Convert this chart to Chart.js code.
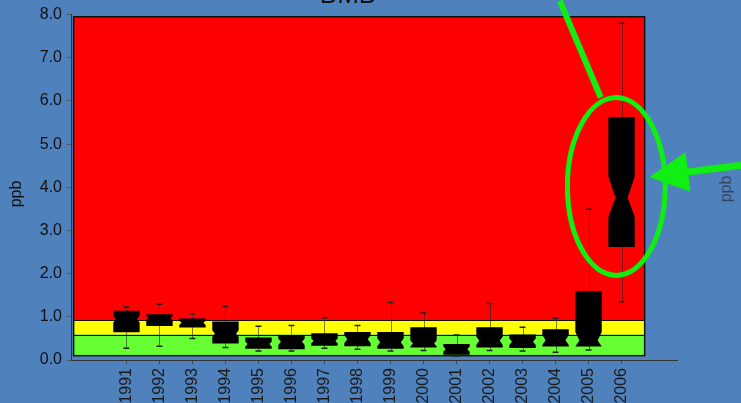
<!DOCTYPE html>
<html>
<head>
<meta charset="utf-8">
<script src="https://cdn.jsdelivr.net/npm/chart.js@4.4.1/dist/chart.umd.min.js"></script>
<style>
    html, body { margin: 0; padding: 0; background: #4f81bd; }
    canvas { display: block; }
</style>
</head>
<body>
<canvas id="bmbChart" width="741" height="403"></canvas>
<script>
// BMB yearly notched box plots (ppb)
const years = [1991, 1992, 1993, 1994, 1995, 1996, 1997, 1998, 1999, 2000, 2001, 2002, 2003, 2004, 2005, 2006];
const whiskerLow  = [0.27, 0.32, 0.50, 0.29, 0.21, 0.21, 0.27, 0.25, 0.21, 0.22, 0.09, 0.22, 0.21, 0.18, 0.23, 1.35];
const q1          = [0.64, 0.79, 0.75, 0.38, 0.26, 0.25, 0.33, 0.32, 0.26, 0.29, 0.12, 0.29, 0.28, 0.31, 0.31, 2.62];
const medians     = [0.95, 0.97, 0.86, 0.61, 0.37, 0.42, 0.44, 0.48, 0.41, 0.38, 0.25, 0.45, 0.42, 0.46, 0.45, 3.76];
const q3          = [1.14, 1.06, 0.96, 0.89, 0.52, 0.58, 0.62, 0.65, 0.65, 0.76, 0.37, 0.76, 0.59, 0.71, 1.60, 5.63];
const whiskerHigh = [1.23, 1.29, 1.07, 1.24, 0.78, 0.80, 0.98, 0.80, 1.33, 1.09, 0.58, 1.31, 0.76, 0.96, 3.49, 7.80];
const notchLow    = [0.86, 0.92, 0.81, 0.54, 0.31, 0.35, 0.39, 0.39, 0.32, 0.31, 0.19, 0.35, 0.35, 0.35, 0.31, 3.31];
const notchHigh   = [1.02, 1.02, 0.91, 0.69, 0.42, 0.50, 0.50, 0.58, 0.50, 0.46, 0.31, 0.54, 0.50, 0.58, 0.65, 4.25];

const yTicks = [0, 1, 2, 3, 4, 5, 6, 7, 8];

// background bands (ppb): green, yellow, red
const bandEdges = [0.10, 0.59, 0.92, 7.95];
const bandColors = ['#66ff33', '#ffff00', '#ff0000'];
const frameX = [1989.4, 2006.7];

// highlight annotation, in data units
const ellipseCenter = [2005.84, 4.02];
const ellipseRadius = [1.48, 2.06];
const pointerLine = [[2004.13, 8.32], [2005.37, 6.08]];
const arrowLine = [[2009.62, 4.51], [2006.84, 4.24]];

const boxWidth = 0.8;
const capWidth = 0.18;
const FONT = '"Liberation Sans", Arial, sans-serif';

const boxPlotPlugin = {
    id: 'boxPlots',
    beforeDraw(chart) {
        const ctx = chart.ctx;
        ctx.save();
        ctx.fillStyle = '#4f81bd';
        ctx.fillRect(0, 0, chart.width, chart.height);
        ctx.restore();
    },
    beforeDatasetsDraw(chart) {
        const ctx = chart.ctx;
        const xs = chart.scales.x, ys = chart.scales.y;
        const left = xs.getPixelForValue(frameX[0]);
        const right = xs.getPixelForValue(frameX[1]);
        ctx.save();
        for (let i = 0; i < bandColors.length; i++) {
            const top = ys.getPixelForValue(bandEdges[i + 1]);
            const bottom = ys.getPixelForValue(bandEdges[i]);
            ctx.fillStyle = bandColors[i];
            ctx.fillRect(left, top, right - left, bottom - top);
        }
        ctx.strokeStyle = '#111';
        ctx.lineWidth = 1;
        for (let i = 1; i < bandEdges.length - 1; i++) {
            const y = Math.round(ys.getPixelForValue(bandEdges[i])) + 0.5;
            ctx.beginPath();
            ctx.moveTo(left, y);
            ctx.lineTo(right, y);
            ctx.stroke();
        }
        const top = ys.getPixelForValue(bandEdges[bandEdges.length - 1]);
        const bottom = ys.getPixelForValue(bandEdges[0]);
        ctx.lineWidth = 1.5;
        ctx.strokeRect(left, top, right - left, bottom - top);
        ctx.restore();
    },
    afterDatasetsDraw(chart) {
        const ctx = chart.ctx;
        const xs = chart.scales.x, ys = chart.scales.y;
        ctx.save();
        years.forEach(function (year, i) {
            const x = xs.getPixelForValue(year);
            const half = (xs.getPixelForValue(year + boxWidth / 2) - xs.getPixelForValue(year - boxWidth / 2)) / 2;
            const capHalf = (xs.getPixelForValue(year + capWidth / 2) - xs.getPixelForValue(year - capWidth / 2)) / 2;
            const yLow = ys.getPixelForValue(whiskerLow[i]);
            const yHigh = ys.getPixelForValue(whiskerHigh[i]);
            const yQ1 = ys.getPixelForValue(q1[i]);
            const yQ3 = ys.getPixelForValue(q3[i]);
            const yMed = ys.getPixelForValue(medians[i]);
            const nHi = ys.getPixelForValue(Math.min(notchHigh[i], q3[i]));
            const nLo = ys.getPixelForValue(Math.max(notchLow[i], q1[i]));

            // whiskers
            const xl = Math.round(x) + 0.5;
            ctx.strokeStyle = 'rgba(40, 40, 40, 0.6)';
            ctx.lineWidth = 1;
            ctx.beginPath();
            ctx.moveTo(xl, yHigh);
            ctx.lineTo(xl, yLow);
            ctx.stroke();
            ctx.strokeStyle = '#222';
            ctx.lineWidth = 1.5;
            ctx.beginPath();
            ctx.moveTo(x - capHalf, yHigh);
            ctx.lineTo(x + capHalf, yHigh);
            ctx.moveTo(x - capHalf, yLow);
            ctx.lineTo(x + capHalf, yLow);
            ctx.stroke();

            // notched box
            const indent = Math.min(half * 0.54, 0.35 * (nLo - nHi) / 2 + 1.5);
            ctx.fillStyle = '#000';
            ctx.beginPath();
            ctx.moveTo(x - half, yQ3);
            ctx.lineTo(x + half, yQ3);
            ctx.lineTo(x + half, nHi);
            ctx.lineTo(x + half - indent, yMed);
            ctx.lineTo(x + half, nLo);
            ctx.lineTo(x + half, yQ1);
            ctx.lineTo(x - half, yQ1);
            ctx.lineTo(x - half, nLo);
            ctx.lineTo(x - half + indent, yMed);
            ctx.lineTo(x - half, nHi);
            ctx.closePath();
            ctx.fill();
        });
        ctx.restore();
    },
    afterDraw(chart) {
        const ctx = chart.ctx;
        const xs = chart.scales.x, ys = chart.scales.y;
        const px = function (p) { return [xs.getPixelForValue(p[0]), ys.getPixelForValue(p[1])]; };
        ctx.save();

        // title, mostly off the top edge
        ctx.fillStyle = '#111';
        ctx.font = '26px ' + FONT;
        ctx.textAlign = 'center';
        ctx.textBaseline = 'alphabetic';
        ctx.fillText('BMB', 348, 3);

        // axis labels
        ctx.font = '16px ' + FONT;
        ctx.textBaseline = 'middle';
        ctx.save();
        ctx.translate(17, 194);
        ctx.rotate(-Math.PI / 2);
        ctx.fillStyle = '#111';
        ctx.fillText('ppb', 0, 0);
        ctx.restore();
        ctx.save();
        ctx.translate(727, 189);
        ctx.rotate(-Math.PI / 2);
        ctx.fillStyle = 'rgba(40, 45, 55, 0.7)';
        ctx.fillText('ppb', 0, 0);
        ctx.restore();

        // green highlight
        ctx.strokeStyle = '#11ee11';
        ctx.fillStyle = '#11ee11';
        const c = px(ellipseCenter);
        const rx = xs.getPixelForValue(ellipseCenter[0] + ellipseRadius[0]) - c[0];
        const ry = c[1] - ys.getPixelForValue(ellipseCenter[1] + ellipseRadius[1]);
        ctx.lineWidth = 5;
        ctx.beginPath();
        ctx.ellipse(c[0], c[1], rx, ry, 0, 0, Math.PI * 2);
        ctx.stroke();

        const a = px(pointerLine[0]), b = px(pointerLine[1]);
        ctx.lineWidth = 6;
        ctx.beginPath();
        ctx.moveTo(a[0], a[1]);
        ctx.lineTo(b[0], b[1]);
        ctx.stroke();

        const tail = px(arrowLine[0]), tip = px(arrowLine[1]);
        const dx = tip[0] - tail[0], dy = tip[1] - tail[1];
        const len = Math.hypot(dx, dy);
        const ux = dx / len, uy = dy / len;
        const headLen = 39, headHalf = 20;
        const bx = tip[0] - ux * headLen, by = tip[1] - uy * headLen;
        ctx.lineWidth = 7;
        ctx.beginPath();
        ctx.moveTo(tail[0], tail[1]);
        ctx.lineTo(bx + ux * 4, by + uy * 4);
        ctx.stroke();
        ctx.beginPath();
        ctx.moveTo(tip[0], tip[1]);
        ctx.lineTo(bx - uy * headHalf, by + ux * headHalf);
        ctx.lineTo(bx + uy * headHalf, by - ux * headHalf);
        ctx.closePath();
        ctx.fill();

        ctx.restore();
    }
};

const ctx = document.getElementById('bmbChart').getContext('2d');

new Chart(ctx, {
    type: 'scatter',
    data: {
        datasets: [{
            label: 'Median',
            data: years.map(function (y, i) { return { x: y, y: medians[i] }; }),
            pointRadius: 0,
            pointHoverRadius: 0,
            showLine: false
        }]
    },
    options: {
        responsive: false,
        animation: false,
        layout: { padding: { top: 14, right: 64, bottom: 0, left: 0 } },
        plugins: {
            legend: { display: false },
            tooltip: { enabled: false },
            title: { display: false }
        },
        scales: {
            x: {
                type: 'linear',
                min: 1989.32,
                max: 2007.68,
                afterFit: function (scale) { scale.height = 43; },
                afterBuildTicks: function (scale) {
                    scale.ticks = years.map(function (v) { return { value: v }; });
                },
                ticks: {
                    autoSkip: false,
                    minRotation: 90,
                    maxRotation: 90,
                    padding: 4,
                    color: '#1a1a1a',
                    font: { family: FONT, size: 16 },
                    callback: function (v) { return String(v); }
                },
                grid: {
                    display: true,
                    drawOnChartArea: false,
                    drawTicks: true,
                    tickLength: 4,
                    color: '#444'
                },
                border: { display: true, color: '#333', width: 1 }
            },
            y: {
                min: 0,
                max: 8,
                afterFit: function (scale) { scale.width = 71; },
                afterBuildTicks: function (scale) {
                    scale.ticks = yTicks.map(function (v) { return { value: v }; });
                },
                ticks: {
                    padding: 5,
                    color: '#111',
                    font: { family: FONT, size: 16 },
                    callback: function (v) { return Number(v).toFixed(1); }
                },
                grid: {
                    display: true,
                    drawOnChartArea: false,
                    drawTicks: true,
                    tickLength: 4,
                    color: '#555'
                },
                border: { display: true, color: '#333', width: 1 }
            }
        }
    },
    plugins: [boxPlotPlugin]
});
</script>
</body>
</html>
